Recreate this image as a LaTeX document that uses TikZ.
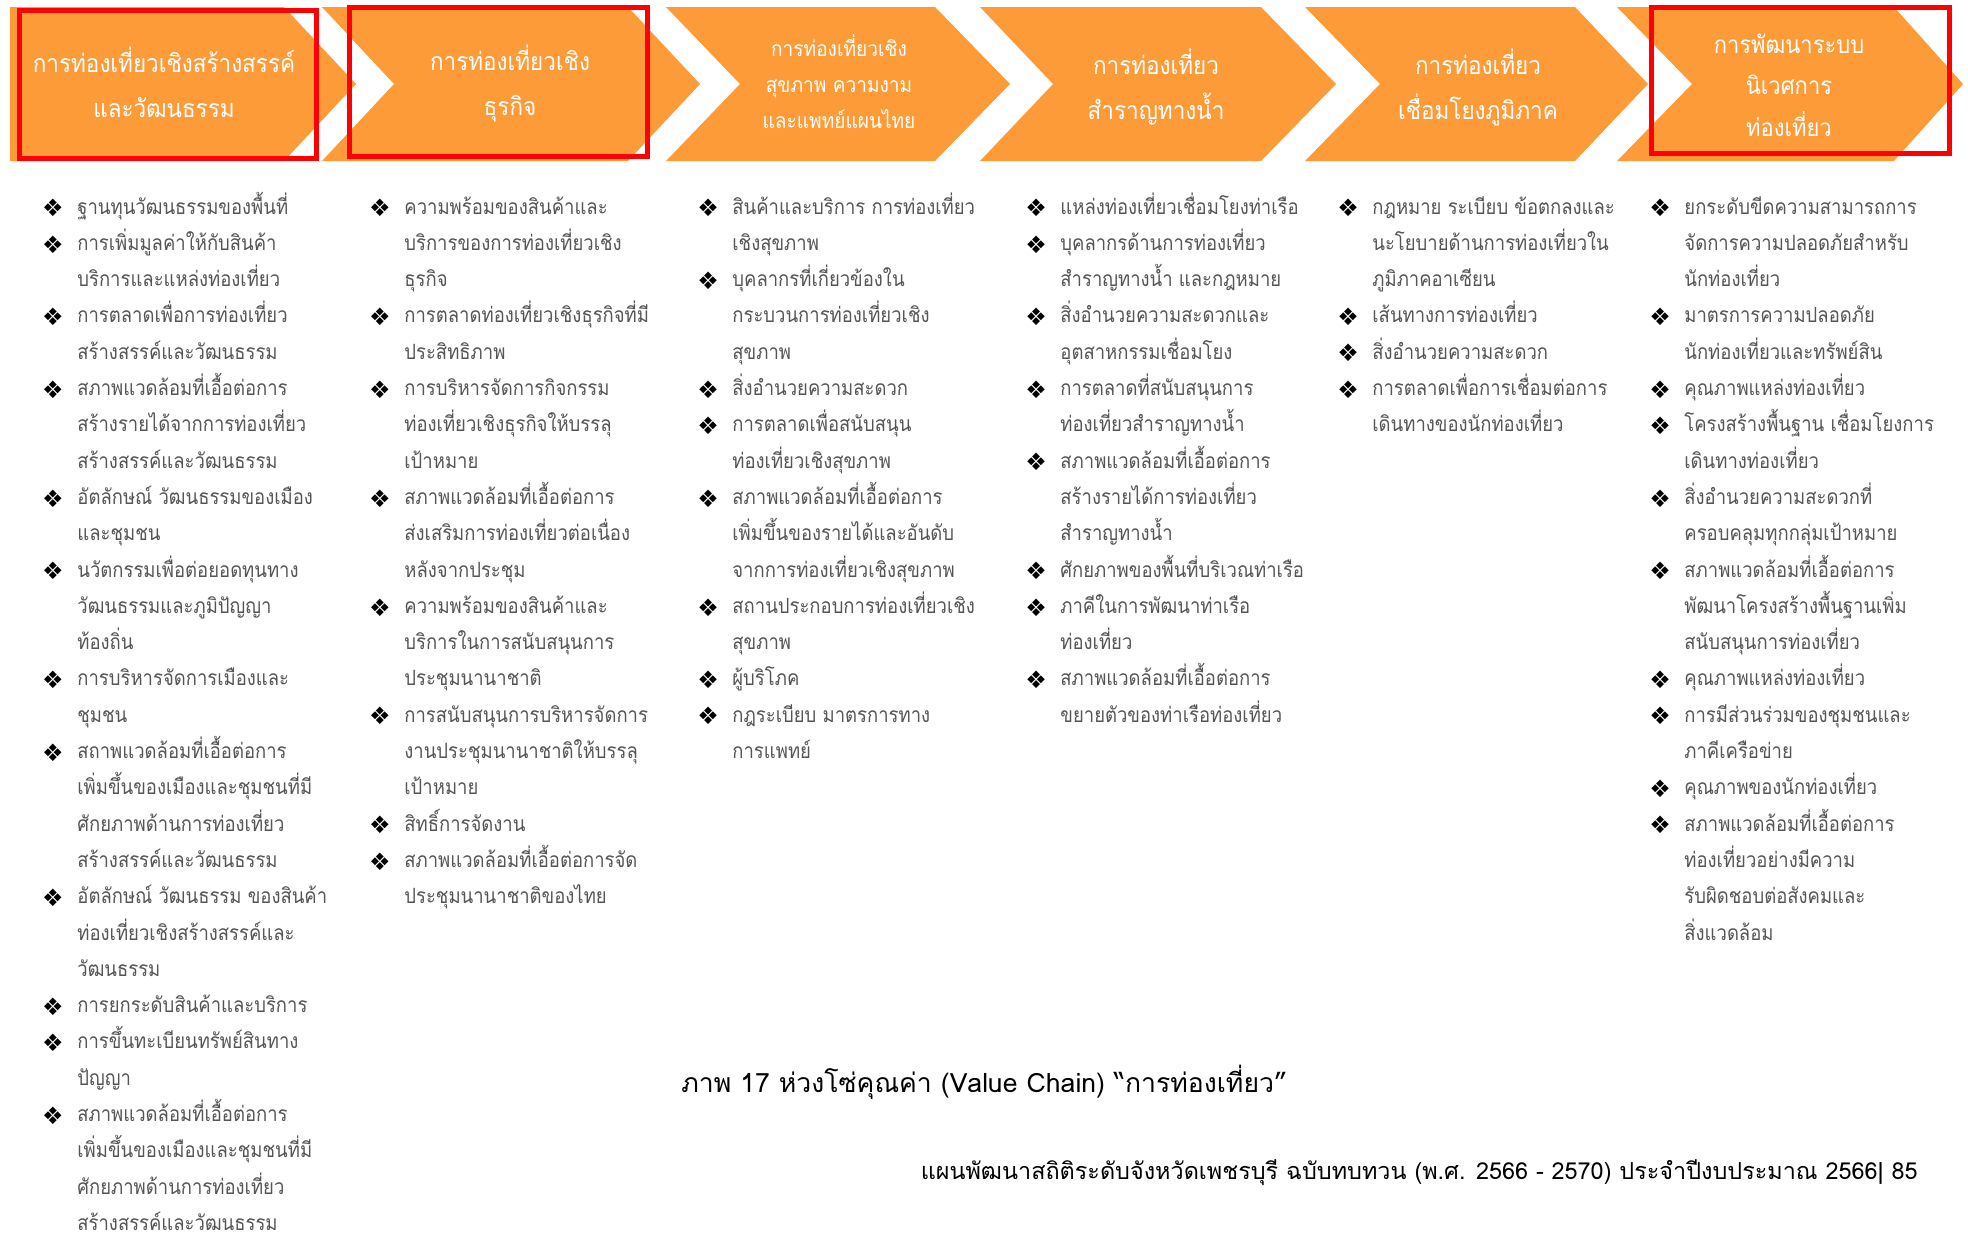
\documentclass[tikz,border=0pt]{standalone}
\usepackage{fontspec}
\setmainfont[Script=Thai]{Loma}
\newfontfamily\bodyfont[Script=Thai,FakeStretch=0.88]{Loma}
\newfontfamily\headfont[Script=Thai,FakeStretch=0.9]{Loma}
\newfontfamily\dvfont{DejaVu Sans}
\definecolor{chevorange}{RGB}{253,155,56}
\definecolor{boxred}{RGB}{255,0,0}
\definecolor{bodygray}{RGB}{85,85,85}
\tikzset{
 chev/.style={fill=chevorange},
 redbox/.style={draw=boxred, line width=2.5pt},
 headtxt/.style={text=white, align=center, inner sep=0pt, font=\headfont\fontsize{12.5}{22.5}\selectfont},
 headsmall/.style={headtxt, font=\headfont\fontsize{10.6}{18}\selectfont},
 headsix/.style={headtxt, font=\headfont\fontsize{12.2}{20.7}\selectfont},
 bodytxt/.style={text=bodygray, anchor=base west, inner sep=0pt, text depth=0pt, font=\bodyfont\fontsize{10.5}{18.2}\selectfont},
 bulsty/.style={text=black, inner sep=0pt, font=\dvfont\fontsize{12}{12}\selectfont},
 captxt/.style={text=black, inner sep=0pt, font=\fontsize{13.3}{15}\selectfont},
 foottxt/.style={text=black, inner sep=0pt, font=\fontsize{11.7}{13}\selectfont},
}
\newcommand\tline[4]{\node[bodytxt] (#1) at (#2,{208+36.3*#3+6}) {#4};}
\newcommand\tbul[4]{\node[bulsty] (#1b) at ({#2-24},{208+36.3*#3}) {❖};\tline{#1}{#2}{#3}{#4}}
\begin{document}
\begin{tikzpicture}[x=0.5pt,y=-0.5pt]
\useasboundingbox (0,0) rectangle (1968,1237);
% chevrons
\fill[chev] (10,7) -- (284,7) -- (356,84) -- (284,161) -- (10,161) -- cycle;
\fill[chev] (322,7) -- (628,7) -- (700,84) -- (628,161) -- (322,161) -- (394,84) -- cycle;
\fill[chev] (666,7) -- (935,7) -- (1010,84) -- (935,161) -- (666,161) -- (740,84) -- cycle;
\fill[chev] (980,7) -- (1261,7) -- (1336,84) -- (1261,161) -- (980,161) -- (1053,84) -- cycle;
\fill[chev] (1305,7) -- (1575,7) -- (1648,84) -- (1575,161) -- (1305,161) -- (1380,84) -- cycle;
\fill[chev] (1617,7) -- (1894,7) -- (1963,84) -- (1894,161) -- (1617,161) -- (1692,84) -- cycle;
% red boxes
\draw[redbox] (19,10) rectangle (316,158);
\draw[redbox] (349,7.5) rectangle (647,156.5);
\draw[redbox] (1651,7.5) rectangle (1949,153);
% header texts
\node[headtxt] (h1) at (164,82) {การท่องเที่ยวเชิงสร้างสรรค์\\และวัฒนธรรม};
\node[headtxt] (h2) at (510,83) {การท่องเที่ยวเชิง\\ธุรกิจ};
\node[headsmall] (h3) at (839,82) {การท่องเที่ยวเชิง\\สุขภาพ ความงาม\\และแพทย์แผนไทย};
\node[headtxt] (h4) at (1156,87) {การท่องเที่ยว\\สำราญทางน้ำ};
\node[headtxt] (h5) at (1478,87) {การท่องเที่ยว\\เชื่อมโยงภูมิภาค};
\node[headsix] (h6) at (1789,85) {การพัฒนาระบบ\\นิเวศการ\\ท่องเที่ยว};
% column 1
\tbul{a0}{77}{0}{ฐานทุนวัฒนธรรมของพื้นที่}
\tbul{a1}{77}{1}{การเพิ่มมูลค่าให้กับสินค้า}
\tline{a2}{77}{2}{บริการและแหล่งท่องเที่ยว}
\tbul{a3}{77}{3}{การตลาดเพื่อการท่องเที่ยว}
\tline{a4}{77}{4}{สร้างสรรค์และวัฒนธรรม}
\tbul{a5}{77}{5}{สภาพแวดล้อมที่เอื้อต่อการ}
\tline{a6}{77}{6}{สร้างรายได้จากการท่องเที่ยว}
\tline{a7}{77}{7}{สร้างสรรค์และวัฒนธรรม}
\tbul{a8}{77}{8}{อัตลักษณ์ วัฒนธรรมของเมือง}
\tline{a9}{77}{9}{และชุมชน}
\tbul{a10}{77}{10}{นวัตกรรมเพื่อต่อยอดทุนทาง}
\tline{a11}{77}{11}{วัฒนธรรมและภูมิปัญญา}
\tline{a12}{77}{12}{ท้องถิ่น}
\tbul{a13}{77}{13}{การบริหารจัดการเมืองและ}
\tline{a14}{77}{14}{ชุมชน}
\tbul{a15}{77}{15}{สถาพแวดล้อมที่เอื้อต่อการ}
\tline{a16}{77}{16}{เพิ่มขึ้นของเมืองและชุมชนที่มี}
\tline{a17}{77}{17}{ศักยภาพด้านการท่องเที่ยว}
\tline{a18}{77}{18}{สร้างสรรค์และวัฒนธรรม}
\tbul{a19}{77}{19}{อัตลักษณ์ วัฒนธรรม ของสินค้า}
\tline{a20}{77}{20}{ท่องเที่ยวเชิงสร้างสรรค์และ}
\tline{a21}{77}{21}{วัฒนธรรม}
\tbul{a22}{77}{22}{การยกระดับสินค้าและบริการ}
\tbul{a23}{77}{23}{การขึ้นทะเบียนทรัพย์สินทาง}
\tline{a24}{77}{24}{ปัญญา}
\tbul{a25}{77}{25}{สภาพแวดล้อมที่เอื้อต่อการ}
\tline{a26}{77}{26}{เพิ่มขึ้นของเมืองและชุมชนที่มี}
\tline{a27}{77}{27}{ศักยภาพด้านการท่องเที่ยว}
\tline{a28}{77}{28}{สร้างสรรค์และวัฒนธรรม}
% column 2
\tbul{b0}{404}{0}{ความพร้อมของสินค้าและ}
\tline{b1}{404}{1}{บริการของการท่องเที่ยวเชิง}
\tline{b2}{404}{2}{ธุรกิจ}
\tbul{b3}{404}{3}{การตลาดท่องเที่ยวเชิงธุรกิจที่มี}
\tline{b4}{404}{4}{ประสิทธิภาพ}
\tbul{b5}{404}{5}{การบริหารจัดการกิจกรรม}
\tline{b6}{404}{6}{ท่องเที่ยวเชิงธุรกิจให้บรรลุ}
\tline{b7}{404}{7}{เป้าหมาย}
\tbul{b8}{404}{8}{สภาพแวดล้อมที่เอื้อต่อการ}
\tline{b9}{404}{9}{ส่งเสริมการท่องเที่ยวต่อเนื่อง}
\tline{b10}{404}{10}{หลังจากประชุม}
\tbul{b11}{404}{11}{ความพร้อมของสินค้าและ}
\tline{b12}{404}{12}{บริการในการสนับสนุนการ}
\tline{b13}{404}{13}{ประชุมนานาชาติ}
\tbul{b14}{404}{14}{การสนับสนุนการบริหารจัดการ}
\tline{b15}{404}{15}{งานประชุมนานาชาติให้บรรลุ}
\tline{b16}{404}{16}{เป้าหมาย}
\tbul{b17}{404}{17}{สิทธิ์การจัดงาน}
\tbul{b18}{404}{18}{สภาพแวดล้อมที่เอื้อต่อการจัด}
\tline{b19}{404}{19}{ประชุมนานาชาติของไทย}
% column 3
\tbul{c0}{732}{0}{สินค้าและบริการ การท่องเที่ยว}
\tline{c1}{732}{1}{เชิงสุขภาพ}
\tbul{c2}{732}{2}{บุคลากรที่เกี่ยวข้องใน}
\tline{c3}{732}{3}{กระบวนการท่องเที่ยวเชิง}
\tline{c4}{732}{4}{สุขภาพ}
\tbul{c5}{732}{5}{สิ่งอำนวยความสะดวก}
\tbul{c6}{732}{6}{การตลาดเพื่อสนับสนุน}
\tline{c7}{732}{7}{ท่องเที่ยวเชิงสุขภาพ}
\tbul{c8}{732}{8}{สภาพแวดล้อมที่เอื้อต่อการ}
\tline{c9}{732}{9}{เพิ่มขึ้นของรายได้และอันดับ}
\tline{c10}{732}{10}{จากการท่องเที่ยวเชิงสุขภาพ}
\tbul{c11}{732}{11}{สถานประกอบการท่องเที่ยวเชิง}
\tline{c12}{732}{12}{สุขภาพ}
\tbul{c13}{732}{13}{ผู้บริโภค}
\tbul{c14}{732}{14}{กฎระเบียบ มาตรการทาง}
\tline{c15}{732}{15}{การแพทย์}
% column 4
\tbul{d0}{1060}{0}{แหล่งท่องเที่ยวเชื่อมโยงท่าเรือ}
\tbul{d1}{1060}{1}{บุคลากรด้านการท่องเที่ยว}
\tline{d2}{1060}{2}{สำราญทางน้ำ และกฎหมาย}
\tbul{d3}{1060}{3}{สิ่งอำนวยความสะดวกและ}
\tline{d4}{1060}{4}{อุตสาหกรรมเชื่อมโยง}
\tbul{d5}{1060}{5}{การตลาดที่สนับสนุนการ}
\tline{d6}{1060}{6}{ท่องเที่ยวสำราญทางน้ำ}
\tbul{d7}{1060}{7}{สภาพแวดล้อมที่เอื้อต่อการ}
\tline{d8}{1060}{8}{สร้างรายได้การท่องเที่ยว}
\tline{d9}{1060}{9}{สำราญทางน้ำ}
\tbul{d10}{1060}{10}{ศักยภาพของพื้นที่บริเวณท่าเรือ}
\tbul{d11}{1060}{11}{ภาคีในการพัฒนาท่าเรือ}
\tline{d12}{1060}{12}{ท่องเที่ยว}
\tbul{d13}{1060}{13}{สภาพแวดล้อมที่เอื้อต่อการ}
\tline{d14}{1060}{14}{ขยายตัวของท่าเรือท่องเที่ยว}
% column 5
\tbul{e0}{1372}{0}{กฎหมาย ระเบียบ ข้อตกลงและ}
\tline{e1}{1372}{1}{นะโยบายด้านการท่องเที่ยวใน}
\tline{e2}{1372}{2}{ภูมิภาคอาเซียน}
\tbul{e3}{1372}{3}{เส้นทางการท่องเที่ยว}
\tbul{e4}{1372}{4}{สิ่งอำนวยความสะดวก}
\tbul{e5}{1372}{5}{การตลาดเพื่อการเชื่อมต่อการ}
\tline{e6}{1372}{6}{เดินทางของนักท่องเที่ยว}
% column 6
\tbul{f0}{1684}{0}{ยกระดับขีดความสามารถการ}
\tline{f1}{1684}{1}{จัดการความปลอดภัยสำหรับ}
\tline{f2}{1684}{2}{นักท่องเที่ยว}
\tbul{f3}{1684}{3}{มาตรการความปลอดภัย}
\tline{f4}{1684}{4}{นักท่องเที่ยวและทรัพย์สิน}
\tbul{f5}{1684}{5}{คุณภาพแหล่งท่องเที่ยว}
\tbul{f6}{1684}{6}{โครงสร้างพื้นฐาน เชื่อมโยงการ}
\tline{f7}{1684}{7}{เดินทางท่องเที่ยว}
\tbul{f8}{1684}{8}{สิ่งอำนวยความสะดวกที่}
\tline{f9}{1684}{9}{ครอบคลุมทุกกลุ่มเป้าหมาย}
\tbul{f10}{1684}{10}{สภาพแวดล้อมที่เอื้อต่อการ}
\tline{f11}{1684}{11}{พัฒนาโครงสร้างพื้นฐานเพิ่ม}
\tline{f12}{1684}{12}{สนับสนุนการท่องเที่ยว}
\tbul{f13}{1684}{13}{คุณภาพแหล่งท่องเที่ยว}
\tbul{f14}{1684}{14}{การมีส่วนร่วมของชุมชนและ}
\tline{f15}{1684}{15}{ภาคีเครือข่าย}
\tbul{f16}{1684}{16}{คุณภาพของนักท่องเที่ยว}
\tbul{f17}{1684}{17}{สภาพแวดล้อมที่เอื้อต่อการ}
\tline{f18}{1684}{18}{ท่องเที่ยวอย่างมีความ}
\tline{f19}{1684}{19}{รับผิดชอบต่อสังคมและ}
\tline{f20}{1684}{20}{สิ่งแวดล้อม}
% caption and footer
\node[captxt, anchor=base west] (cap) at (681,1092) {ภาพ 17 ห่วงโซ่คุณค่า (Value Chain) “การท่องเที่ยว”};
\node[foottxt, anchor=base east] (foot) at (1918,1179) {แผนพัฒนาสถิติระดับจังหวัดเพชรบุรี ฉบับทบทวน (พ.ศ. 2566 - 2570) ประจำปีงบประมาณ 2566| 85};
\end{tikzpicture}
\end{document}
